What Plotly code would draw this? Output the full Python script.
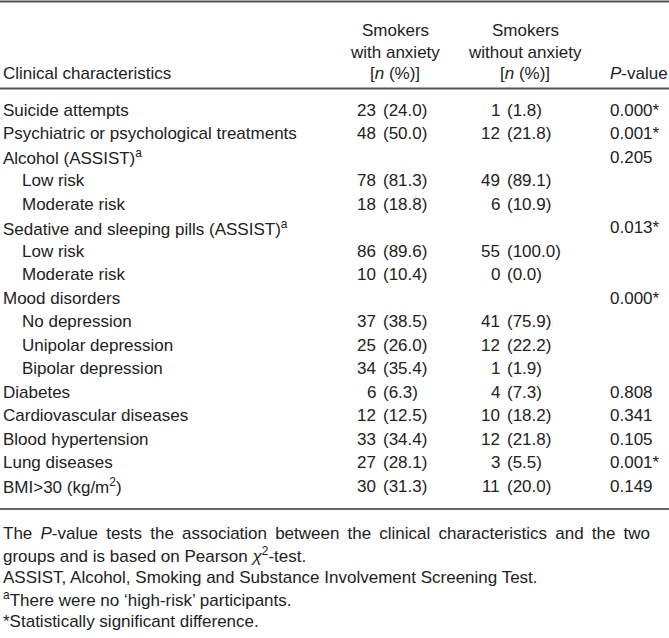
import plotly.graph_objects as go

# ---- data ----
labels = [
    "Suicide attempts",
    "Psychiatric or psychological treatments",
    "Alcohol (ASSIST)<sup>a</sup>",
    "Low risk",
    "Moderate risk",
    "Sedative and sleeping pills (ASSIST)<sup>a</sup>",
    "Low risk",
    "Moderate risk",
    "Mood disorders",
    "No depression",
    "Unipolar depression",
    "Bipolar depression",
    "Diabetes",
    "Cardiovascular diseases",
    "Blood hypertension",
    "Lung diseases",
    "BMI&gt;30 (kg/m<sup>2</sup>)",
]
indent = [0, 0, 0, 1, 1, 0, 1, 1, 0, 1, 1, 1, 0, 0, 0, 0, 0]
anx_n = ["23", "48", "", "78", "18", "", "86", "10", "", "37", "25", "34", "6", "12", "33", "27", "30"]
anx_pct = ["(24.0)", "(50.0)", "", "(81.3)", "(18.8)", "", "(89.6)", "(10.4)", "", "(38.5)", "(26.0)", "(35.4)", "(6.3)", "(12.5)", "(34.4)", "(28.1)", "(31.3)"]
noanx_n = ["1", "12", "", "49", "6", "", "55", "0", "", "41", "12", "1", "4", "10", "12", "3", "11"]
noanx_pct = ["(1.8)", "(21.8)", "", "(89.1)", "(10.9)", "", "(100.0)", "(0.0)", "", "(75.9)", "(22.2)", "(1.9)", "(7.3)", "(18.2)", "(21.8)", "(5.5)", "(20.0)"]
pvals = ["0.000*", "0.001*", "0.205", "", "", "0.013*", "", "", "0.000*", "", "", "", "0.808", "0.341", "0.105", "0.001*", "0.149"]

header_col1 = "Clinical characteristics"
header_col2 = ["Smokers", "with anxiety", "[<i>n</i> (%)]"]
header_col3 = ["Smokers", "without anxiety", "[<i>n</i> (%)]"]
header_col4 = "<i>P</i>-value"

footnotes = [
    "The <i>P</i>-value tests the association between the clinical characteristics and the two",
    "groups and is based on Pearson <i>χ</i><sup>2</sup>-test.",
    "ASSIST, Alcohol, Smoking and Substance Involvement Screening Test.",
    "<sup>a</sup>There were no ‘high-risk’ participants.",
    "*Statistically significant difference.",
]
justified = [True, False, False, False, False]

# ---- layout constants ----
W, H = 669, 638
FONT = "Liberation Sans, Arial, sans-serif"
FS = 17
COLOR = "#222222"
row0, dy = 110, 23.5
x_label, x_indent = 2, 21
x2_n, x2_p = 377, 382
x3_n, x3_p = 501, 506
x4 = 609
c2, c3 = 395, 525
head_y = [30, 52, 73]
foot_y0, foot_dy = 533, 22

ann = []

def add(text, x, y, xa="left", size=FS):
    ann.append(dict(text=text, x=x, y=y, xref="x", yref="y", showarrow=False,
                    xanchor=xa, yanchor="middle", borderpad=0,
                    font=dict(family=FONT, size=size, color=COLOR)))

# header
add(header_col1, x_label, head_y[2])
for i, t in enumerate(header_col2):
    add(t, c2, head_y[i], "center")
for i, t in enumerate(header_col3):
    add(t, c3, head_y[i], "center")
add(header_col4, x4, head_y[2])

# body
for i, lab in enumerate(labels):
    y = row0 + i * dy
    add(lab, x_indent if indent[i] else x_label, y)
    if anx_n[i]:
        add(anx_n[i], x2_n, y, "right")
        add(anx_pct[i], x2_p, y)
    if noanx_n[i]:
        add(noanx_n[i], x3_n, y, "right")
        add(noanx_pct[i], x3_p, y)
    if pvals[i]:
        add(pvals[i], x4, y)

# footnotes (first line stretched like a justified paragraph line)
for i, t in enumerate(footnotes):
    if justified[i]:
        t = t.replace(" ", " \u2009")
    add(t, x_label, foot_y0 + i * foot_dy)

bottom_rule = 509
shapes = [
    dict(type="line", x0=0, x1=W, y0=1.5, y1=1.5, xref="x", yref="y", line=dict(color="#555555", width=2)),
    dict(type="line", x0=0, x1=W, y0=88.5, y1=88.5, xref="x", yref="y", line=dict(color="#555555", width=2)),
    dict(type="line", x0=0, x1=W, y0=bottom_rule, y1=bottom_rule, xref="x", yref="y", line=dict(color="#333333", width=1.5)),
]

fig = go.Figure()
fig.update_layout(
    width=W, height=H, margin=dict(l=0, r=0, t=0, b=0),
    paper_bgcolor="white", plot_bgcolor="white",
    xaxis=dict(range=[0, W], visible=False, fixedrange=True),
    yaxis=dict(range=[H, 0], visible=False, fixedrange=True),
    annotations=ann, shapes=shapes, showlegend=False,
)
fig.write_html(
    "out.html",
    config={"displayModeBar": False},
    post_script="document.body.style.margin='0';document.body.style.overflow='hidden';",
)
